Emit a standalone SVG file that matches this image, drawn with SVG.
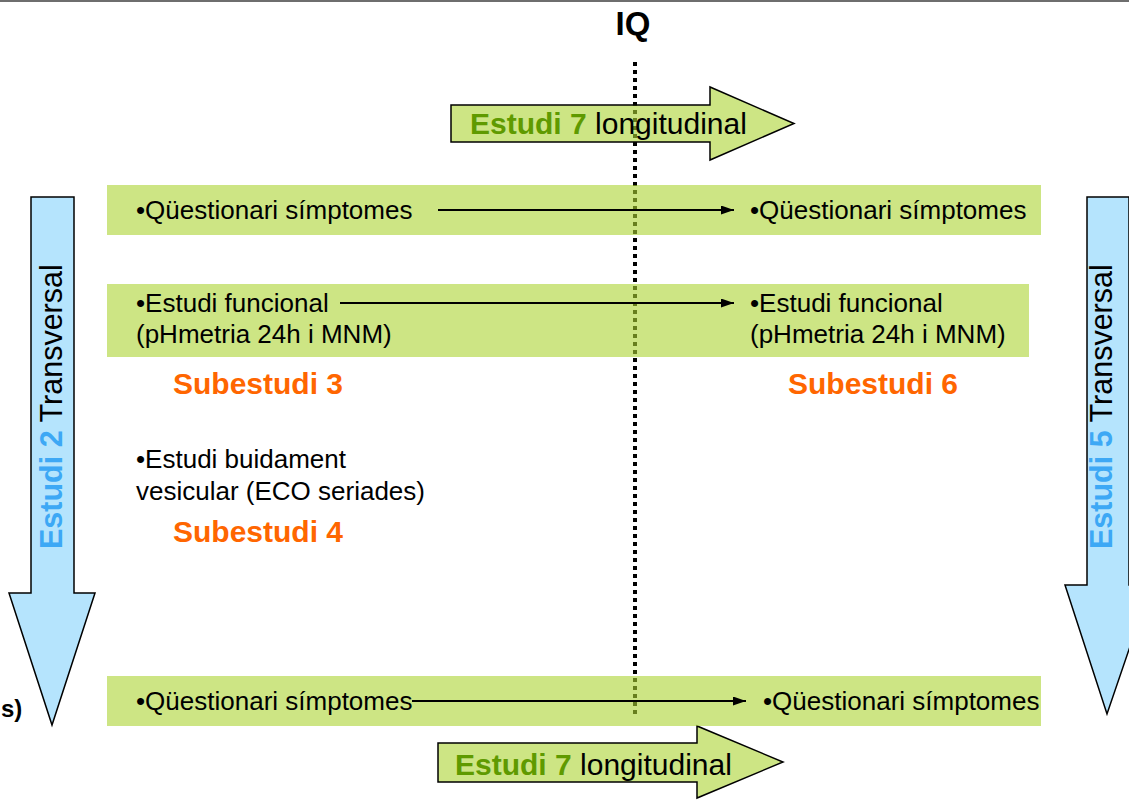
<svg xmlns="http://www.w3.org/2000/svg" width="1129" height="800" viewBox="0 0 1129 800">
<style>
text{font-family:"Liberation Sans",Arial,sans-serif;}
.t{font-size:26px;fill:#000;}
.sub{font-size:30px;font-weight:bold;fill:#FF6600;}
.bar{fill:#ACD432;fill-opacity:0.6;stroke:none;}
.garrow{fill:#ACD432;fill-opacity:0.6;stroke:#000;stroke-width:1.5;stroke-linejoin:miter;}
.barrow{fill:#B5E4FD;stroke:#000;stroke-width:1.5;}
.big{font-size:30px;fill:#000;}
.vert{font-size:30.5px;fill:#000;}
.gb{font-weight:bold;fill:#5F9A00;}
.bb{font-weight:bold;fill:#3DA8F5;}
.conn{stroke:#000;stroke-width:2;fill:none;marker-end:url(#ah);}
</style>
<defs>
<marker id="ah" markerUnits="userSpaceOnUse" markerWidth="13" markerHeight="10" refX="13" refY="4.5" orient="auto">
<path d="M0,0 L13,4.5 L0,9 z" fill="#000"/>
</marker>
</defs>
<rect x="0" y="0" width="1129" height="800" fill="#fff"/>
<line x1="0" y1="1" x2="1129" y2="1" stroke="#6e6e6e" stroke-width="2"/>
<g id="iq">
<text x="633" y="35" text-anchor="middle" font-size="33" font-weight="bold">IQ</text>
<line x1="635" y1="62" x2="635" y2="716" stroke="#000" stroke-width="4" stroke-dasharray="4 4"/>
</g>
<g id="estudi2">
<path class="barrow" d="M31,197 L74,197 L74,593 L95,593 L52,725 L9,593 L31,593 Z"/>
<text transform="translate(62,549) rotate(-90)" class="vert"><tspan class="bb">Estudi 2</tspan> Transversal</text>
</g>
<g id="estudi5">
<path class="barrow" d="M1087,197 L1129,197 L1129,585 L1151,585 L1107,714 L1065,585 L1087,585 Z"/>
<text transform="translate(1112,549) rotate(-90)" class="vert"><tspan class="bb">Estudi 5</tspan> Transversal</text>
</g>
<g id="cut-label">
<text x="1" y="717" font-size="24" font-weight="bold">s)</text>
</g>
<g id="estudi7-top">
<path class="garrow" d="M451,105 L710,105 L710,87 L794,123.5 L710,160 L710,142 L451,142 Z"/>
<text x="470" y="134" class="big"><tspan class="gb">Estudi 7</tspan> longitudinal</text>
</g>
<g id="estudi7-bottom">
<path class="garrow" d="M438,743 L697,743 L697,726 L783,762 L697,798 L697,782 L438,782 Z"/>
<text x="455" y="775" class="big"><tspan class="gb">Estudi 7</tspan> longitudinal</text>
</g>
<g id="row1">
<rect class="bar" x="107" y="185" width="934" height="50"/>
<text class="t" x="136" y="219">•Qüestionari símptomes</text>
<text class="t" x="750" y="219">•Qüestionari símptomes</text>
</g>
<g id="row2">
<rect class="bar" x="107" y="284" width="922" height="73"/>
<text class="t" x="136" y="312">•Estudi funcional</text>
<text class="t" x="136" y="343">(pHmetria 24h i MNM)</text>
<text class="t" x="750" y="312">•Estudi funcional</text>
<text class="t" x="750" y="343">(pHmetria 24h i MNM)</text>
</g>
<g id="subestudi3"><text class="sub" x="173" y="394">Subestudi 3</text></g>
<g id="subestudi6"><text class="sub" x="788" y="394">Subestudi 6</text></g>
<g id="buidament">
<text class="t" x="136" y="468">•Estudi buidament</text>
<text class="t" x="136" y="500">vesicular (ECO seriades)</text>
</g>
<g id="subestudi4"><text class="sub" x="173" y="542">Subestudi 4</text></g>
<g id="row3">
<rect class="bar" x="107" y="676" width="934" height="50"/>
<text class="t" x="136" y="710">•Qüestionari símptomes</text>
<text class="t" x="763" y="710">•Qüestionari símptomes</text>
</g>
<g id="connectors">
<line class="conn" x1="438" y1="210" x2="734" y2="210"/>
<line class="conn" x1="340" y1="303" x2="734" y2="303"/>
<line class="conn" x1="412" y1="701" x2="746" y2="701"/>
</g>
</svg>
